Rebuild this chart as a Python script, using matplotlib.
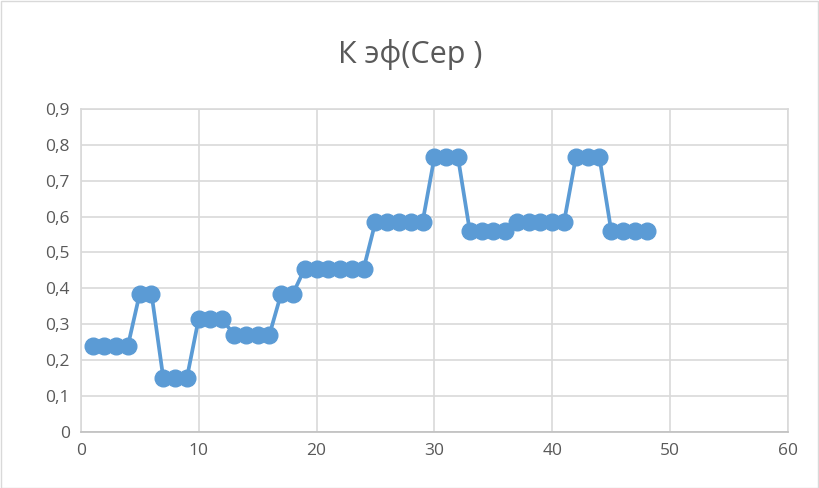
import numpy as np
import matplotlib.pyplot as plt
from matplotlib.ticker import FuncFormatter, MultipleLocator
from matplotlib.patches import Rectangle

# series data
x_vals = list(range(1, 49))
k_eff = [0.24, 0.24, 0.24, 0.24,
         0.385, 0.385,
         0.15, 0.15, 0.15,
         0.315, 0.315, 0.315,
         0.27, 0.27, 0.27, 0.27,
         0.385, 0.385,
         0.455, 0.455, 0.455, 0.455, 0.455, 0.455,
         0.585, 0.585, 0.585, 0.585, 0.585,
         0.765, 0.765, 0.765,
         0.56, 0.56, 0.56, 0.56,
         0.585, 0.585, 0.585, 0.585, 0.585,
         0.765, 0.765, 0.765,
         0.56, 0.56, 0.56, 0.56]
title = 'К эф(Сер )'

plt.rcParams['font.family'] = ['Open Sans', 'DejaVu Sans']

fig = plt.figure(figsize=(8.2, 4.88), dpi=100)
ax = fig.add_axes([0.0985, 0.115, 0.8625, 0.662])

line_col = '#5B9BD5'
ax.plot(x_vals, k_eff, color=line_col, linewidth=2.7, marker='o',
        markersize=12, markerfacecolor=line_col, markeredgecolor=line_col,
        zorder=3, clip_on=False)

ax.set_xlim(0, 60)
ax.set_ylim(0, 0.9)
ax.xaxis.set_major_locator(MultipleLocator(10))
ax.yaxis.set_major_locator(MultipleLocator(0.1))

# decimal comma on the value axis
ax.yaxis.set_major_formatter(FuncFormatter(lambda v, p: '0' if abs(v) < 1e-9 else ('%.1f' % v).replace('.', ',')))
ax.xaxis.set_major_formatter(FuncFormatter(lambda v, p: '%d' % round(v)))

ax.grid(True, color='#D9D9D9', linewidth=1.2)
ax.set_axisbelow(True)
for side in ['top', 'right', 'left']:
    ax.spines[side].set_color('#D9D9D9')
    ax.spines[side].set_linewidth(1.2)
ax.spines['bottom'].set_color('#BFBFBF')
ax.spines['bottom'].set_linewidth(1.2)
ax.tick_params(length=0, labelsize=12.5, colors='#595959', pad=8)

fig.text(0.5, 0.888, title, ha='center', va='center', fontsize=22, color='#595959')

# outer chart border
fig.patches.append(Rectangle((0.001, 0.001), 0.997, 0.997, transform=fig.transFigure,
                             fill=False, edgecolor='#D9D9D9', linewidth=1))

fig.savefig('out.png', dpi=100)
